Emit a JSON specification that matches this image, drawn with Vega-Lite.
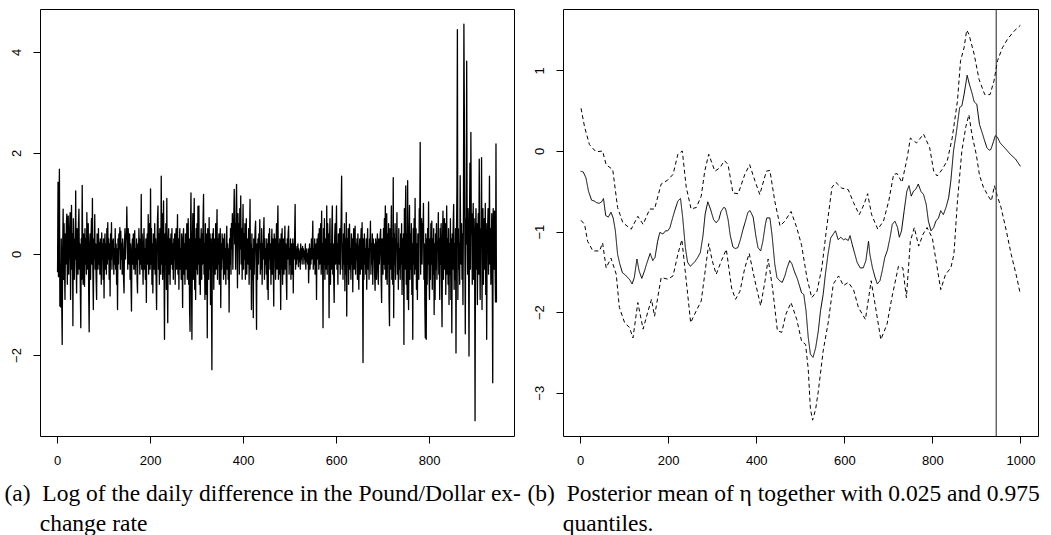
{
"$schema":"https://vega.github.io/schema/vega-lite/v6.json",
"background":"white",
"padding":{"left":0,"top":8,"right":0,"bottom":0},
"bounds":"flush",
"spacing":49,
"config":{
 "view":{"stroke":"black","strokeWidth":1},
 "axis":{"domain":false,"grid":false,"tickColor":"black","tickSize":7,"tickWidth":1,"labelFont":"Liberation Sans","labelFontSize":13,"labelColor":"black","labelFlush":false,"labelOverlap":false,"titleFont":"Times New Roman, Tinos, Liberation Serif, DejaVu Serif Condensed","titleFontSize":23.5,"titleFontWeight":"normal","titleColor":"black","titleLineHeight":30,"titleLimit":2000},
 "axisX":{"labelPadding":11,"labelBaseline":"top"},
 "axisY":{"labelAngle":270,"labelAlign":"center","labelBaseline":"bottom","labelPadding":10,"minExtent":39,"maxExtent":39}
},
"hconcat":[
{
 "width":474,"height":427,
 "data":{"values":[
{"t":1,"y":-0.35},{"t":2,"y":1.42},{"t":3,"y":-0.45},{"t":4,"y":0.9},{"t":5,"y":1.68},{"t":6,"y":-1.03},{"t":7,"y":-0.2},{"t":8,"y":-1.05},{"t":9,"y":0.3},{"t":10,"y":-1.0},
{"t":11,"y":-1.79},{"t":12,"y":0.1},{"t":13,"y":0.89},{"t":14,"y":-0.5},{"t":15,"y":0.6},{"t":16,"y":-0.3},{"t":17,"y":-0.9},{"t":18,"y":0.4},{"t":19,"y":-0.2},{"t":20,"y":0.6},
{"t":21,"y":0.79},{"t":22,"y":-0.6},{"t":23,"y":0.3},{"t":24,"y":0.75},{"t":25,"y":-0.4},{"t":26,"y":0.1},{"t":27,"y":0.5},{"t":28,"y":0.82},{"t":29,"y":-0.9},{"t":30,"y":0.2},
{"t":31,"y":0.96},{"t":32,"y":-0.3},{"t":33,"y":0.4},{"t":34,"y":-1.42},{"t":35,"y":0.7},{"t":36,"y":0.2},{"t":37,"y":-0.5},{"t":38,"y":0.3},{"t":39,"y":-0.1},{"t":40,"y":1.25},
{"t":41,"y":-0.2},{"t":42,"y":-0.77},{"t":43,"y":0.5},{"t":44,"y":0.1},{"t":45,"y":-0.4},{"t":46,"y":0.6},{"t":47,"y":0.89},{"t":48,"y":-0.3},{"t":49,"y":0.2},{"t":50,"y":-0.7},
{"t":51,"y":-1.46},{"t":52,"y":0.3},{"t":53,"y":-0.5},{"t":54,"y":1.36},{"t":55,"y":0.2},{"t":56,"y":-0.6},{"t":57,"y":0.4},{"t":58,"y":0.1},{"t":59,"y":-0.64},{"t":60,"y":0.5},
{"t":61,"y":-0.2},{"t":62,"y":0.3},{"t":63,"y":-0.4},{"t":64,"y":0.82},{"t":65,"y":0.1},{"t":66,"y":-0.3},{"t":67,"y":0.6},{"t":68,"y":-0.8},{"t":69,"y":-1.54},{"t":70,"y":0.2},
{"t":71,"y":0.4},{"t":72,"y":-0.5},{"t":73,"y":0.3},{"t":74,"y":0.7},{"t":75,"y":-0.2},{"t":76,"y":1.1},{"t":77,"y":-0.4},{"t":78,"y":-1.1},{"t":79,"y":0.3},{"t":80,"y":-0.1},
{"t":81,"y":0.78},{"t":82,"y":-0.3},{"t":83,"y":0.2},{"t":84,"y":-0.5},{"t":85,"y":-0.9},{"t":86,"y":0.4},{"t":87,"y":0.1},{"t":88,"y":-0.3},{"t":89,"y":0.5},{"t":90,"y":-0.2},
{"t":91,"y":0.22},{"t":92,"y":-0.4},{"t":93,"y":0.3},{"t":94,"y":0.1},{"t":95,"y":-0.6},{"t":96,"y":0.42},{"t":97,"y":-0.1},{"t":98,"y":0.2},{"t":99,"y":-0.5},{"t":100,"y":0.3},
{"t":101,"y":-0.87},{"t":102,"y":0.1},{"t":103,"y":0.4},{"t":104,"y":-0.3},{"t":105,"y":0.2},{"t":106,"y":-0.4},{"t":107,"y":0.5},{"t":108,"y":-0.2},{"t":109,"y":0.62},{"t":110,"y":-0.1},
{"t":111,"y":0.3},{"t":112,"y":-0.5},{"t":113,"y":0.2},{"t":114,"y":-0.83},{"t":115,"y":0.4},{"t":116,"y":-0.1},{"t":117,"y":0.62},{"t":118,"y":-0.3},{"t":119,"y":0.1},{"t":120,"y":0.25},
{"t":121,"y":0.3},{"t":122,"y":-0.4},{"t":123,"y":0.1},{"t":124,"y":-0.2},{"t":125,"y":0.5},{"t":126,"y":-0.3},{"t":127,"y":0.2},{"t":128,"y":-0.6},{"t":129,"y":0.1},{"t":130,"y":-1.1},
{"t":131,"y":0.3},{"t":132,"y":-0.2},{"t":133,"y":0.4},{"t":134,"y":0.1},{"t":135,"y":0.52},{"t":136,"y":-0.3},{"t":137,"y":0.45},{"t":138,"y":-0.1},{"t":139,"y":0.2},{"t":140,"y":-0.4},
{"t":141,"y":0.3},{"t":142,"y":0.1},{"t":143,"y":-0.5},{"t":144,"y":-0.77},{"t":145,"y":0.2},{"t":146,"y":0.5},{"t":147,"y":-0.1},{"t":148,"y":0.4},{"t":149,"y":0.3},{"t":150,"y":0.93},
{"t":151,"y":0.2},{"t":152,"y":-0.3},{"t":153,"y":0.5},{"t":154,"y":0.1},{"t":155,"y":-0.2},{"t":156,"y":0.4},{"t":157,"y":-0.5},{"t":158,"y":0.2},{"t":159,"y":-0.6},{"t":160,"y":-1.13},
{"t":161,"y":0.1},{"t":162,"y":0.3},{"t":163,"y":-0.2},{"t":164,"y":0.4},{"t":165,"y":-0.3},{"t":166,"y":0.2},{"t":167,"y":0.46},{"t":168,"y":-0.4},{"t":169,"y":0.1},{"t":170,"y":-0.2},
{"t":171,"y":0.3},{"t":172,"y":-0.5},{"t":173,"y":-0.77},{"t":174,"y":0.2},{"t":175,"y":-0.1},{"t":176,"y":0.5},{"t":177,"y":0.1},{"t":178,"y":-0.4},{"t":179,"y":0.3},{"t":180,"y":-0.2},
{"t":181,"y":1.18},{"t":182,"y":-0.3},{"t":183,"y":0.4},{"t":184,"y":-0.1},{"t":185,"y":-0.6},{"t":186,"y":0.2},{"t":187,"y":0.5},{"t":188,"y":-0.3},{"t":189,"y":0.1},{"t":190,"y":-0.5},
{"t":191,"y":0.3},{"t":192,"y":-0.96},{"t":193,"y":0.2},{"t":194,"y":0.4},{"t":195,"y":-0.2},{"t":196,"y":0.78},{"t":197,"y":-0.4},{"t":198,"y":0.1},{"t":199,"y":0.6},{"t":200,"y":-0.3},
{"t":201,"y":1.29},{"t":202,"y":-0.2},{"t":203,"y":0.5},{"t":204,"y":-0.6},{"t":205,"y":0.2},{"t":206,"y":-0.77},{"t":207,"y":0.4},{"t":208,"y":0.1},{"t":209,"y":-0.3},{"t":210,"y":0.6},
{"t":211,"y":-0.4},{"t":212,"y":0.3},{"t":213,"y":-0.5},{"t":214,"y":-1.1},{"t":215,"y":0.2},{"t":216,"y":0.7},{"t":217,"y":0.95},{"t":218,"y":-0.3},{"t":219,"y":0.4},{"t":220,"y":-0.6},
{"t":221,"y":0.5},{"t":222,"y":0.1},{"t":223,"y":-0.4},{"t":224,"y":1.54},{"t":225,"y":-0.2},{"t":226,"y":0.8},{"t":227,"y":-0.5},{"t":228,"y":0.3},{"t":229,"y":1.05},{"t":230,"y":-0.3},
{"t":231,"y":-1.69},{"t":232,"y":0.4},{"t":233,"y":-0.2},{"t":234,"y":0.6},{"t":235,"y":-0.7},{"t":236,"y":1.1},{"t":237,"y":-0.3},{"t":238,"y":-1.36},{"t":239,"y":0.2},{"t":240,"y":0.5},
{"t":241,"y":-0.4},{"t":242,"y":0.3},{"t":243,"y":-0.6},{"t":244,"y":0.1},{"t":245,"y":0.4},{"t":246,"y":-0.2},{"t":247,"y":0.5},{"t":248,"y":-0.3},{"t":249,"y":0.2},{"t":250,"y":-0.5},
{"t":251,"y":0.3},{"t":252,"y":-0.1},{"t":253,"y":0.4},{"t":254,"y":-0.6},{"t":255,"y":0.2},{"t":256,"y":0.5},{"t":257,"y":-0.3},{"t":258,"y":0.1},{"t":259,"y":0.78},{"t":260,"y":-0.4},
{"t":261,"y":0.3},{"t":262,"y":-0.7},{"t":263,"y":0.2},{"t":264,"y":0.5},{"t":265,"y":-0.3},{"t":266,"y":0.1},{"t":267,"y":-0.5},{"t":268,"y":0.4},{"t":269,"y":-0.2},{"t":270,"y":-1.06},
{"t":271,"y":0.3},{"t":272,"y":0.5},{"t":273,"y":-0.4},{"t":274,"y":0.2},{"t":275,"y":-0.6},{"t":276,"y":0.4},{"t":277,"y":0.1},{"t":278,"y":-0.3},{"t":279,"y":0.6},{"t":280,"y":-0.5},
{"t":281,"y":0.2},{"t":282,"y":0.7},{"t":283,"y":-0.6},{"t":284,"y":0.3},{"t":285,"y":-1.1},{"t":286,"y":-1.53},{"t":287,"y":0.5},{"t":288,"y":1.21},{"t":289,"y":-0.4},{"t":290,"y":-1.69},
{"t":291,"y":0.2},{"t":292,"y":0.8},{"t":293,"y":-0.5},{"t":294,"y":0.4},{"t":295,"y":1.1},{"t":296,"y":-0.7},{"t":297,"y":0.3},{"t":298,"y":-0.9},{"t":299,"y":0.5},{"t":300,"y":-0.3},
{"t":301,"y":0.6},{"t":302,"y":-0.4},{"t":303,"y":0.94},{"t":304,"y":-0.2},{"t":305,"y":0.95},{"t":306,"y":-0.6},{"t":307,"y":0.3},{"t":308,"y":-0.8},{"t":309,"y":0.2},{"t":310,"y":0.5},
{"t":311,"y":-0.5},{"t":312,"y":0.4},{"t":313,"y":-0.2},{"t":314,"y":0.7},{"t":315,"y":1.18},{"t":316,"y":-0.4},{"t":317,"y":0.2},{"t":318,"y":-0.9},{"t":319,"y":0.6},{"t":320,"y":-0.3},
{"t":321,"y":-0.8},{"t":322,"y":0.4},{"t":323,"y":-1.66},{"t":324,"y":0.5},{"t":325,"y":0.1},{"t":326,"y":-0.5},{"t":327,"y":0.72},{"t":328,"y":-0.3},{"t":329,"y":0.4},{"t":330,"y":-1.0},
{"t":331,"y":0.3},{"t":332,"y":-0.6},{"t":333,"y":-2.29},{"t":334,"y":0.4},{"t":335,"y":-0.2},{"t":336,"y":0.5},{"t":337,"y":-0.7},{"t":338,"y":0.1},{"t":339,"y":0.3},{"t":340,"y":-0.4},
{"t":341,"y":0.6},{"t":342,"y":-0.3},{"t":343,"y":0.2},{"t":344,"y":0.88},{"t":345,"y":-0.5},{"t":346,"y":0.3},{"t":347,"y":-0.2},{"t":348,"y":0.4},{"t":349,"y":-0.6},{"t":350,"y":0.1},
{"t":351,"y":0.5},{"t":352,"y":-1.06},{"t":353,"y":0.2},{"t":354,"y":-0.3},{"t":355,"y":0.4},{"t":356,"y":-0.1},{"t":357,"y":0.3},{"t":358,"y":-0.5},{"t":359,"y":0.2},{"t":360,"y":0.4},
{"t":361,"y":-0.4},{"t":362,"y":0.1},{"t":363,"y":-0.6},{"t":364,"y":0.3},{"t":365,"y":0.55},{"t":366,"y":-0.3},{"t":367,"y":0.2},{"t":368,"y":-0.5},{"t":369,"y":0.1},{"t":370,"y":-1.15},
{"t":371,"y":0.3},{"t":372,"y":-0.2},{"t":373,"y":0.5},{"t":374,"y":-0.4},{"t":375,"y":0.6},{"t":376,"y":0.1},{"t":377,"y":0.8},{"t":378,"y":-0.3},{"t":379,"y":0.4},{"t":380,"y":0.7},
{"t":381,"y":1.28},{"t":382,"y":0.2},{"t":383,"y":0.6},{"t":384,"y":-0.3},{"t":385,"y":0.9},{"t":386,"y":1.38},{"t":387,"y":0.3},{"t":388,"y":-0.67},{"t":389,"y":0.8},{"t":390,"y":0.2},
{"t":391,"y":0.6},{"t":392,"y":-0.4},{"t":393,"y":0.9},{"t":394,"y":0.1},{"t":395,"y":1.15},{"t":396,"y":-0.2},{"t":397,"y":0.5},{"t":398,"y":-0.5},{"t":399,"y":0.3},{"t":400,"y":0.98},
{"t":401,"y":-0.3},{"t":402,"y":0.4},{"t":403,"y":-0.1},{"t":404,"y":0.6},{"t":405,"y":-0.5},{"t":406,"y":0.2},{"t":407,"y":0.7},{"t":408,"y":-0.4},{"t":409,"y":0.3},{"t":410,"y":0.1},
{"t":411,"y":-0.2},{"t":412,"y":0.5},{"t":413,"y":-0.6},{"t":414,"y":0.3},{"t":415,"y":1.08},{"t":416,"y":-0.3},{"t":417,"y":0.2},{"t":418,"y":-1.1},{"t":419,"y":0.4},{"t":420,"y":-0.5},
{"t":421,"y":0.1},{"t":422,"y":-1.26},{"t":423,"y":0.3},{"t":424,"y":-0.4},{"t":425,"y":0.2},{"t":426,"y":0.5},{"t":427,"y":0.65},{"t":428,"y":-0.3},{"t":429,"y":-1.49},{"t":430,"y":0.2},
{"t":431,"y":-0.5},{"t":432,"y":0.3},{"t":433,"y":-0.2},{"t":434,"y":0.4},{"t":435,"y":0.1},{"t":436,"y":0.68},{"t":437,"y":-0.4},{"t":438,"y":0.2},{"t":439,"y":-0.3},{"t":440,"y":0.5},
{"t":441,"y":-0.6},{"t":442,"y":0.2},{"t":443,"y":-0.1},{"t":444,"y":0.4},{"t":445,"y":0.72},{"t":446,"y":-0.5},{"t":447,"y":0.3},{"t":448,"y":-0.2},{"t":449,"y":0.1},{"t":450,"y":-0.4},
{"t":451,"y":0.3},{"t":452,"y":-0.7},{"t":453,"y":0.2},{"t":454,"y":-0.9},{"t":455,"y":0.4},{"t":456,"y":-0.1},{"t":457,"y":0.5},{"t":458,"y":-0.3},{"t":459,"y":0.2},{"t":460,"y":-0.6},
{"t":461,"y":0.1},{"t":462,"y":0.49},{"t":463,"y":-0.4},{"t":464,"y":0.3},{"t":465,"y":-0.2},{"t":466,"y":-1.03},{"t":467,"y":0.4},{"t":468,"y":-0.1},{"t":469,"y":0.3},{"t":470,"y":-0.5},
{"t":471,"y":0.2},{"t":472,"y":0.6},{"t":473,"y":-0.3},{"t":474,"y":0.4},{"t":475,"y":0.95},{"t":476,"y":-0.5},{"t":477,"y":0.2},{"t":478,"y":-0.4},{"t":479,"y":0.3},{"t":480,"y":-0.2},
{"t":481,"y":-1.1},{"t":482,"y":0.4},{"t":483,"y":-0.3},{"t":484,"y":0.5},{"t":485,"y":-0.6},{"t":486,"y":0.2},{"t":487,"y":0.3},{"t":488,"y":-0.4},{"t":489,"y":0.1},{"t":490,"y":0.55},
{"t":491,"y":-0.3},{"t":492,"y":0.2},{"t":493,"y":-0.5},{"t":494,"y":-0.9},{"t":495,"y":0.3},{"t":496,"y":-0.1},{"t":497,"y":0.4},{"t":498,"y":0.55},{"t":499,"y":-0.4},{"t":500,"y":0.1},
{"t":501,"y":-0.2},{"t":502,"y":0.3},{"t":503,"y":-0.5},{"t":504,"y":0.2},{"t":505,"y":0.1},{"t":506,"y":-0.4},{"t":507,"y":0.3},{"t":508,"y":-0.77},{"t":509,"y":0.2},{"t":510,"y":-0.1},
{"t":511,"y":0.4},{"t":512,"y":0.98},{"t":513,"y":-0.3},{"t":514,"y":0.1},{"t":515,"y":-0.2},{"t":516,"y":0.15},{"t":517,"y":-0.1},{"t":518,"y":0.2},{"t":519,"y":-0.25},{"t":520,"y":0.1},
{"t":521,"y":-0.15},{"t":522,"y":0.05},{"t":523,"y":-0.3},{"t":524,"y":0.2},{"t":525,"y":-0.1},{"t":526,"y":0.1},{"t":527,"y":-0.2},{"t":528,"y":0.15},{"t":529,"y":-0.05},{"t":530,"y":0.1},
{"t":531,"y":-0.2},{"t":532,"y":0.05},{"t":533,"y":-0.1},{"t":534,"y":0.2},{"t":535,"y":-0.3},{"t":536,"y":0.1},{"t":537,"y":-0.15},{"t":538,"y":0.0},{"t":539,"y":-0.2},{"t":540,"y":0.1},
{"t":541,"y":-0.57},{"t":542,"y":-0.1},{"t":543,"y":0.2},{"t":544,"y":-0.3},{"t":545,"y":0.1},{"t":546,"y":-0.2},{"t":547,"y":0.3},{"t":548,"y":-0.1},{"t":549,"y":0.2},{"t":550,"y":0.65},
{"t":551,"y":-0.3},{"t":552,"y":0.1},{"t":553,"y":-0.2},{"t":554,"y":0.3},{"t":555,"y":-0.4},{"t":556,"y":0.0},{"t":557,"y":0.2},{"t":558,"y":-0.9},{"t":559,"y":0.3},{"t":560,"y":-0.1},
{"t":561,"y":0.2},{"t":562,"y":0.4},{"t":563,"y":-0.3},{"t":564,"y":0.5},{"t":565,"y":-0.2},{"t":566,"y":0.1},{"t":567,"y":0.6},{"t":568,"y":-0.4},{"t":569,"y":0.85},{"t":570,"y":-0.3},
{"t":571,"y":0.2},{"t":572,"y":-1.46},{"t":573,"y":0.5},{"t":574,"y":-0.2},{"t":575,"y":0.7},{"t":576,"y":-0.5},{"t":577,"y":0.3},{"t":578,"y":0.1},{"t":579,"y":-0.3},{"t":580,"y":0.95},
{"t":581,"y":-0.4},{"t":582,"y":0.6},{"t":583,"y":-0.2},{"t":584,"y":0.4},{"t":585,"y":-1.26},{"t":586,"y":0.3},{"t":587,"y":0.7},{"t":588,"y":-0.6},{"t":589,"y":0.2},{"t":590,"y":-0.3},
{"t":591,"y":0.5},{"t":592,"y":0.95},{"t":593,"y":-0.4},{"t":594,"y":0.2},{"t":595,"y":-0.5},{"t":596,"y":-0.96},{"t":597,"y":0.3},{"t":598,"y":0.6},{"t":599,"y":-0.2},{"t":600,"y":0.4},
{"t":601,"y":0.95},{"t":602,"y":-0.3},{"t":603,"y":0.2},{"t":604,"y":-0.6},{"t":605,"y":0.4},{"t":606,"y":0.1},{"t":607,"y":-0.2},{"t":608,"y":0.5},{"t":609,"y":-0.4},{"t":610,"y":0.3},
{"t":611,"y":0.7},{"t":612,"y":1.54},{"t":613,"y":-0.3},{"t":614,"y":0.2},{"t":615,"y":-0.5},{"t":616,"y":0.4},{"t":617,"y":-0.2},{"t":618,"y":0.6},{"t":619,"y":-0.73},{"t":620,"y":0.3},
{"t":621,"y":-0.4},{"t":622,"y":0.82},{"t":623,"y":-1.23},{"t":624,"y":0.3},{"t":625,"y":-0.2},{"t":626,"y":0.5},{"t":627,"y":-0.6},{"t":628,"y":0.2},{"t":629,"y":0.59},{"t":630,"y":-0.3},
{"t":631,"y":0.1},{"t":632,"y":-0.5},{"t":633,"y":0.4},{"t":634,"y":-0.2},{"t":635,"y":0.3},{"t":636,"y":-0.75},{"t":637,"y":0.2},{"t":638,"y":0.5},{"t":639,"y":-0.3},{"t":640,"y":0.1},
{"t":641,"y":0.55},{"t":642,"y":-0.4},{"t":643,"y":0.2},{"t":644,"y":-0.1},{"t":645,"y":0.3},{"t":646,"y":-0.5},{"t":647,"y":0.4},{"t":648,"y":-0.2},{"t":649,"y":-0.7},{"t":650,"y":0.1},
{"t":651,"y":0.3},{"t":652,"y":-0.4},{"t":653,"y":0.2},{"t":654,"y":0.5},{"t":655,"y":-0.3},{"t":656,"y":0.62},{"t":657,"y":-0.2},{"t":658,"y":-2.15},{"t":659,"y":0.3},{"t":660,"y":-0.5},
{"t":661,"y":0.4},{"t":662,"y":-0.2},{"t":663,"y":0.1},{"t":664,"y":-0.4},{"t":665,"y":0.3},{"t":666,"y":-0.7},{"t":667,"y":0.2},{"t":668,"y":0.5},{"t":669,"y":-0.3},{"t":670,"y":0.1},
{"t":671,"y":-0.5},{"t":672,"y":0.3},{"t":673,"y":0.1},{"t":674,"y":0.65},{"t":675,"y":-0.4},{"t":676,"y":0.2},{"t":677,"y":-0.2},{"t":678,"y":0.4},{"t":679,"y":-0.6},{"t":680,"y":0.3},
{"t":681,"y":-0.1},{"t":682,"y":0.2},{"t":683,"y":-0.4},{"t":684,"y":-0.72},{"t":685,"y":0.3},{"t":686,"y":0.1},{"t":687,"y":-0.5},{"t":688,"y":0.2},{"t":689,"y":0.4},{"t":690,"y":-0.3},
{"t":691,"y":-0.6},{"t":692,"y":0.3},{"t":693,"y":-0.2},{"t":694,"y":0.1},{"t":695,"y":0.4},{"t":696,"y":0.49},{"t":697,"y":-0.5},{"t":698,"y":-0.96},{"t":699,"y":0.3},{"t":700,"y":0.2},
{"t":701,"y":-0.4},{"t":702,"y":0.5},{"t":703,"y":-0.2},{"t":704,"y":0.7},{"t":705,"y":-0.3},{"t":706,"y":0.95},{"t":707,"y":-0.5},{"t":708,"y":0.3},{"t":709,"y":0.8},{"t":710,"y":-0.6},
{"t":711,"y":0.4},{"t":712,"y":-0.2},{"t":713,"y":0.6},{"t":714,"y":-0.9},{"t":715,"y":-1.42},{"t":716,"y":0.5},{"t":717,"y":-0.3},{"t":718,"y":0.2},{"t":719,"y":0.95},{"t":720,"y":-0.5},
{"t":721,"y":0.3},{"t":722,"y":-0.6},{"t":723,"y":1.51},{"t":724,"y":-1.26},{"t":725,"y":0.4},{"t":726,"y":-0.2},{"t":727,"y":0.6},{"t":728,"y":-0.5},{"t":729,"y":0.3},{"t":730,"y":0.1},
{"t":731,"y":0.82},{"t":732,"y":-0.4},{"t":733,"y":0.2},{"t":734,"y":-0.7},{"t":735,"y":0.5},{"t":736,"y":-0.3},{"t":737,"y":0.1},{"t":738,"y":-0.5},{"t":739,"y":0.4},{"t":740,"y":-0.2},
{"t":741,"y":0.6},{"t":742,"y":-0.8},{"t":743,"y":0.3},{"t":744,"y":-0.5},{"t":745,"y":0.4},{"t":746,"y":-1.79},{"t":747,"y":0.9},{"t":748,"y":-0.3},{"t":749,"y":0.7},{"t":750,"y":1.35},
{"t":751,"y":-0.6},{"t":752,"y":0.4},{"t":753,"y":-0.9},{"t":754,"y":1.45},{"t":755,"y":-0.4},{"t":756,"y":-1.1},{"t":757,"y":0.3},{"t":758,"y":0.96},{"t":759,"y":-0.5},{"t":760,"y":0.4},
{"t":761,"y":-0.3},{"t":762,"y":0.6},{"t":763,"y":-0.8},{"t":764,"y":0.2},{"t":765,"y":-1.69},{"t":766,"y":0.5},{"t":767,"y":-0.2},{"t":768,"y":0.7},{"t":769,"y":-0.4},{"t":770,"y":1.1},
{"t":771,"y":-0.3},{"t":772,"y":0.5},{"t":773,"y":-0.7},{"t":774,"y":0.2},{"t":775,"y":-0.9},{"t":776,"y":0.4},{"t":777,"y":0.1},{"t":778,"y":-0.5},{"t":779,"y":0.9},{"t":780,"y":0.6},
{"t":781,"y":2.21},{"t":782,"y":-0.4},{"t":783,"y":0.5},{"t":784,"y":0.7},{"t":785,"y":-0.2},{"t":786,"y":0.6},{"t":787,"y":0.3},{"t":788,"y":1.0},{"t":789,"y":-0.5},{"t":790,"y":0.2},
{"t":791,"y":-1.0},{"t":792,"y":-1.66},{"t":793,"y":0.4},{"t":794,"y":-1.69},{"t":795,"y":0.3},{"t":796,"y":-0.6},{"t":797,"y":0.5},{"t":798,"y":-0.2},{"t":799,"y":1.03},{"t":800,"y":-0.4},
{"t":801,"y":-0.9},{"t":802,"y":0.3},{"t":803,"y":-0.5},{"t":804,"y":0.6},{"t":805,"y":-0.2},{"t":806,"y":0.65},{"t":807,"y":-0.7},{"t":808,"y":0.3},{"t":809,"y":-0.4},{"t":810,"y":0.5},
{"t":811,"y":-1.2},{"t":812,"y":0.2},{"t":813,"y":-0.9},{"t":814,"y":0.4},{"t":815,"y":-0.3},{"t":816,"y":0.6},{"t":817,"y":-0.5},{"t":818,"y":0.2},{"t":819,"y":0.1},{"t":820,"y":0.82},
{"t":821,"y":-0.4},{"t":822,"y":0.3},{"t":823,"y":-0.9},{"t":824,"y":0.5},{"t":825,"y":-0.2},{"t":826,"y":0.6},{"t":827,"y":-0.6},{"t":828,"y":-1.44},{"t":829,"y":0.3},{"t":830,"y":0.85},
{"t":831,"y":-0.5},{"t":832,"y":0.4},{"t":833,"y":0.7},{"t":834,"y":-0.3},{"t":835,"y":0.6},{"t":836,"y":-0.8},{"t":837,"y":0.2},{"t":838,"y":0.95},{"t":839,"y":-0.4},{"t":840,"y":0.3},
{"t":841,"y":-0.6},{"t":842,"y":0.5},{"t":843,"y":-1.0},{"t":844,"y":0.2},{"t":845,"y":-0.4},{"t":846,"y":0.7},{"t":847,"y":-0.9},{"t":848,"y":0.3},{"t":849,"y":-1.56},{"t":850,"y":0.4},
{"t":851,"y":-0.3},{"t":852,"y":0.6},{"t":853,"y":0.98},{"t":854,"y":-0.7},{"t":855,"y":0.2},{"t":856,"y":-0.5},{"t":857,"y":0.5},{"t":858,"y":-1.96},{"t":859,"y":0.3},{"t":860,"y":1.29},
{"t":861,"y":4.44},{"t":862,"y":-0.9},{"t":863,"y":0.5},{"t":864,"y":-0.3},{"t":865,"y":0.2},{"t":866,"y":-0.6},{"t":867,"y":1.55},{"t":868,"y":0.3},{"t":869,"y":-0.2},{"t":870,"y":0.6},
{"t":871,"y":-0.5},{"t":872,"y":0.4},{"t":873,"y":-1.0},{"t":874,"y":0.8},{"t":875,"y":4.55},{"t":876,"y":2.8},{"t":877,"y":0.4},{"t":878,"y":-1.58},{"t":879,"y":0.7},{"t":880,"y":0.2},
{"t":881,"y":3.82},{"t":882,"y":0.5},{"t":883,"y":-0.4},{"t":884,"y":0.9},{"t":885,"y":-0.2},{"t":886,"y":-2.02},{"t":887,"y":0.6},{"t":888,"y":1.8},{"t":889,"y":-0.3},{"t":890,"y":2.41},
{"t":891,"y":0.4},{"t":892,"y":0.8},{"t":893,"y":-0.6},{"t":894,"y":0.3},{"t":895,"y":1.0},{"t":896,"y":-0.5},{"t":897,"y":0.7},{"t":898,"y":0.2},{"t":899,"y":-3.3},{"t":900,"y":0.4},
{"t":901,"y":0.9},{"t":902,"y":-0.3},{"t":903,"y":0.6},{"t":904,"y":-1.0},{"t":905,"y":0.3},{"t":906,"y":0.8},{"t":907,"y":-0.4},{"t":908,"y":1.88},{"t":909,"y":0.1},{"t":910,"y":-0.9},
{"t":911,"y":0.5},{"t":912,"y":0.2},{"t":913,"y":1.91},{"t":914,"y":-1.1},{"t":915,"y":0.4},{"t":916,"y":0.9},{"t":917,"y":-0.6},{"t":918,"y":0.5},{"t":919,"y":0.7},{"t":920,"y":-0.3},
{"t":921,"y":1.0},{"t":922,"y":-0.8},{"t":923,"y":0.6},{"t":924,"y":-1.69},{"t":925,"y":0.3},{"t":926,"y":0.5},{"t":927,"y":0.9},{"t":928,"y":-0.4},{"t":929,"y":0.2},{"t":930,"y":1.54},
{"t":931,"y":-0.2},{"t":932,"y":0.5},{"t":933,"y":-0.6},{"t":934,"y":0.3},{"t":935,"y":0.8},{"t":936,"y":-0.5},{"t":937,"y":-2.55},{"t":938,"y":0.9},{"t":939,"y":0.4},{"t":940,"y":-0.3},
{"t":941,"y":0.85},{"t":942,"y":-0.2},{"t":943,"y":-0.95},{"t":944,"y":2.18},{"t":945,"y":-0.95}
 ]},
 "mark":{"type":"line","color":"black","strokeWidth":1.3,"strokeJoin":"round","strokeCap":"round"},
 "encoding":{
  "x":{"field":"t","type":"quantitative","scale":{"domain":[-36.76,982.76],"nice":false,"zero":false},
   "axis":{"values":[0,200,400,600,800],"format":"d","title":["(a)\u00a0\u00a0Log of the daily difference in the Pound/Dollar ex-","\u200b\u00a0\u00a0\u00a0\u00a0\u00a0\u00a0change rate"],"titleX":-36,"titleY":64,"titleAngle":0,"titleAlign":"left","titleBaseline":"alphabetic","titleAnchor":"start"}},
  "y":{"field":"y","type":"quantitative","scale":{"domain":[-3.604,4.851],"nice":false,"zero":false},
   "axis":{"values":[-2,0,2,4],"format":"d","title":null}}
 }
},
{
 "width":475,"height":427,
 "layer":[
 {
  "data":{"values":[
{"t":1,"v":-0.25,"s":"m"},{"t":7,"v":-0.26,"s":"m"},{"t":13,"v":-0.33,"s":"m"},{"t":19,"v":-0.5,"s":"m"},{"t":26,"v":-0.61,"s":"m"},{"t":32,"v":-0.62,"s":"m"},{"t":37,"v":-0.64,"s":"m"},{"t":43,"v":-0.65,"s":"m"},{"t":49,"v":-0.63,"s":"m"},{"t":53,"v":-0.59,"s":"m"},
{"t":58,"v":-0.8,"s":"m"},{"t":64,"v":-0.82,"s":"m"},{"t":70,"v":-0.76,"s":"m"},{"t":75,"v":-0.83,"s":"m"},{"t":80,"v":-0.99,"s":"m"},{"t":85,"v":-1.28,"s":"m"},{"t":90,"v":-1.4,"s":"m"},{"t":96,"v":-1.51,"s":"m"},{"t":103,"v":-1.54,"s":"m"},{"t":108,"v":-1.57,"s":"m"},
{"t":113,"v":-1.6,"s":"m"},{"t":118,"v":-1.65,"s":"m"},{"t":123,"v":-1.57,"s":"m"},{"t":129,"v":-1.34,"s":"m"},{"t":134,"v":-1.49,"s":"m"},{"t":140,"v":-1.58,"s":"m"},{"t":146,"v":-1.49,"s":"m"},{"t":151,"v":-1.4,"s":"m"},{"t":159,"v":-1.27,"s":"m"},{"t":165,"v":-1.36,"s":"m"},
{"t":170,"v":-1.32,"s":"m"},{"t":176,"v":-1.12,"s":"m"},{"t":181,"v":-1.01,"s":"m"},{"t":188,"v":-1.03,"s":"m"},{"t":194,"v":-0.99,"s":"m"},{"t":199,"v":-0.99,"s":"m"},{"t":204,"v":-0.95,"s":"m"},{"t":210,"v":-0.83,"s":"m"},{"t":216,"v":-0.72,"s":"m"},{"t":222,"v":-0.62,"s":"m"},
{"t":228,"v":-0.59,"s":"m"},{"t":233,"v":-0.83,"s":"m"},{"t":239,"v":-1.2,"s":"m"},{"t":244,"v":-1.38,"s":"m"},{"t":250,"v":-1.43,"s":"m"},{"t":256,"v":-1.4,"s":"m"},{"t":261,"v":-1.37,"s":"m"},{"t":267,"v":-1.32,"s":"m"},{"t":273,"v":-1.26,"s":"m"},{"t":279,"v":-1.05,"s":"m"},
{"t":284,"v":-0.78,"s":"m"},{"t":290,"v":-0.63,"s":"m"},{"t":296,"v":-0.72,"s":"m"},{"t":303,"v":-0.85,"s":"m"},{"t":309,"v":-0.89,"s":"m"},{"t":315,"v":-0.85,"s":"m"},{"t":320,"v":-0.75,"s":"m"},{"t":326,"v":-0.7,"s":"m"},{"t":330,"v":-0.71,"s":"m"},{"t":336,"v":-0.85,"s":"m"},
{"t":341,"v":-1.05,"s":"m"},{"t":347,"v":-1.19,"s":"m"},{"t":352,"v":-1.21,"s":"m"},{"t":358,"v":-1.2,"s":"m"},{"t":364,"v":-1.1,"s":"m"},{"t":370,"v":-0.97,"s":"m"},{"t":375,"v":-0.88,"s":"m"},{"t":381,"v":-0.76,"s":"m"},{"t":386,"v":-0.74,"s":"m"},{"t":393,"v":-0.82,"s":"m"},
{"t":399,"v":-1.05,"s":"m"},{"t":404,"v":-1.2,"s":"m"},{"t":410,"v":-1.24,"s":"m"},{"t":415,"v":-1.12,"s":"m"},{"t":421,"v":-0.9,"s":"m"},{"t":424,"v":-0.83,"s":"m"},{"t":431,"v":-0.83,"s":"m"},{"t":436,"v":-1.05,"s":"m"},{"t":442,"v":-1.4,"s":"m"},{"t":447,"v":-1.57,"s":"m"},
{"t":453,"v":-1.61,"s":"m"},{"t":459,"v":-1.63,"s":"m"},{"t":465,"v":-1.55,"s":"m"},{"t":470,"v":-1.45,"s":"m"},{"t":476,"v":-1.36,"s":"m"},{"t":481,"v":-1.4,"s":"m"},{"t":487,"v":-1.5,"s":"m"},{"t":493,"v":-1.58,"s":"m"},{"t":497,"v":-1.65,"s":"m"},{"t":503,"v":-1.76,"s":"m"},
{"t":508,"v":-1.78,"s":"m"},{"t":513,"v":-1.98,"s":"m"},{"t":518,"v":-2.31,"s":"m"},{"t":523,"v":-2.52,"s":"m"},{"t":529,"v":-2.56,"s":"m"},{"t":535,"v":-2.44,"s":"m"},{"t":541,"v":-2.23,"s":"m"},{"t":546,"v":-1.98,"s":"m"},{"t":552,"v":-1.78,"s":"m"},{"t":557,"v":-1.53,"s":"m"},
{"t":563,"v":-1.28,"s":"m"},{"t":569,"v":-1.08,"s":"m"},{"t":575,"v":-1.03,"s":"m"},{"t":580,"v":-0.99,"s":"m"},{"t":586,"v":-1.1,"s":"m"},{"t":592,"v":-1.07,"s":"m"},{"t":598,"v":-1.1,"s":"m"},{"t":603,"v":-1.09,"s":"m"},{"t":609,"v":-1.11,"s":"m"},{"t":613,"v":-1.05,"s":"m"},
{"t":618,"v":-1.16,"s":"m"},{"t":624,"v":-1.28,"s":"m"},{"t":629,"v":-1.38,"s":"m"},{"t":636,"v":-1.45,"s":"m"},{"t":643,"v":-1.45,"s":"m"},{"t":649,"v":-1.36,"s":"m"},{"t":655,"v":-1.12,"s":"m"},{"t":658,"v":-1.28,"s":"m"},{"t":664,"v":-1.45,"s":"m"},{"t":670,"v":-1.57,"s":"m"},
{"t":675,"v":-1.65,"s":"m"},{"t":681,"v":-1.61,"s":"m"},{"t":686,"v":-1.49,"s":"m"},{"t":692,"v":-1.32,"s":"m"},{"t":698,"v":-1.23,"s":"m"},{"t":704,"v":-1.07,"s":"m"},{"t":709,"v":-0.91,"s":"m"},{"t":715,"v":-0.87,"s":"m"},{"t":721,"v":-0.95,"s":"m"},{"t":725,"v":-1.07,"s":"m"},
{"t":730,"v":-0.99,"s":"m"},{"t":736,"v":-0.74,"s":"m"},{"t":742,"v":-0.5,"s":"m"},{"t":747,"v":-0.43,"s":"m"},{"t":752,"v":-0.56,"s":"m"},{"t":757,"v":-0.5,"s":"m"},{"t":763,"v":-0.47,"s":"m"},{"t":768,"v":-0.41,"s":"m"},{"t":774,"v":-0.5,"s":"m"},{"t":780,"v":-0.54,"s":"m"},
{"t":786,"v":-0.66,"s":"m"},{"t":791,"v":-0.87,"s":"m"},{"t":797,"v":-0.99,"s":"m"},{"t":803,"v":-0.95,"s":"m"},{"t":808,"v":-0.87,"s":"m"},{"t":814,"v":-0.83,"s":"m"},{"t":819,"v":-0.74,"s":"m"},{"t":825,"v":-0.79,"s":"m"},{"t":831,"v":-0.7,"s":"m"},{"t":837,"v":-0.58,"s":"m"},
{"t":842,"v":-0.37,"s":"m"},{"t":848,"v":0.0,"s":"m"},{"t":854,"v":0.21,"s":"m"},{"t":862,"v":0.54,"s":"m"},{"t":867,"v":0.56,"s":"m"},{"t":872,"v":0.7,"s":"m"},{"t":879,"v":0.94,"s":"m"},{"t":884,"v":0.83,"s":"m"},{"t":890,"v":0.72,"s":"m"},{"t":895,"v":0.61,"s":"m"},
{"t":901,"v":0.58,"s":"m"},{"t":907,"v":0.33,"s":"m"},{"t":913,"v":0.23,"s":"m"},{"t":918,"v":0.14,"s":"m"},{"t":924,"v":0.04,"s":"m"},{"t":929,"v":0.01,"s":"m"},{"t":933,"v":0.02,"s":"m"},{"t":939,"v":0.12,"s":"m"},{"t":943,"v":0.19,"s":"m"},{"t":948,"v":0.17,"s":"m"},
{"t":954,"v":0.1,"s":"m"},{"t":966,"v":0.03,"s":"m"},{"t":977,"v":-0.04,"s":"m"},{"t":989,"v":-0.1,"s":"m"},{"t":1000,"v":-0.19,"s":"m"},
{"t":2,"v":0.53,"s":"hi"},{"t":10,"v":0.3,"s":"hi"},{"t":21,"v":0.08,"s":"hi"},{"t":36,"v":-0.01,"s":"hi"},{"t":51,"v":0.0,"s":"hi"},{"t":59,"v":-0.17,"s":"hi"},{"t":74,"v":-0.23,"s":"hi"},{"t":85,"v":-0.7,"s":"hi"},{"t":97,"v":-0.89,"s":"hi"},{"t":116,"v":-0.97,"s":"hi"},
{"t":131,"v":-0.81,"s":"hi"},{"t":143,"v":-0.91,"s":"hi"},{"t":158,"v":-0.72,"s":"hi"},{"t":169,"v":-0.72,"s":"hi"},{"t":184,"v":-0.41,"s":"hi"},{"t":199,"v":-0.36,"s":"hi"},{"t":211,"v":-0.29,"s":"hi"},{"t":222,"v":-0.04,"s":"hi"},{"t":232,"v":0.0,"s":"hi"},{"t":241,"v":-0.45,"s":"hi"},
{"t":252,"v":-0.72,"s":"hi"},{"t":264,"v":-0.7,"s":"hi"},{"t":275,"v":-0.56,"s":"hi"},{"t":283,"v":-0.25,"s":"hi"},{"t":292,"v":-0.04,"s":"hi"},{"t":306,"v":-0.25,"s":"hi"},{"t":317,"v":-0.21,"s":"hi"},{"t":328,"v":-0.12,"s":"hi"},{"t":336,"v":-0.17,"s":"hi"},{"t":347,"v":-0.52,"s":"hi"},
{"t":359,"v":-0.53,"s":"hi"},{"t":374,"v":-0.29,"s":"hi"},{"t":385,"v":-0.17,"s":"hi"},{"t":397,"v":-0.37,"s":"hi"},{"t":408,"v":-0.54,"s":"hi"},{"t":423,"v":-0.25,"s":"hi"},{"t":431,"v":-0.24,"s":"hi"},{"t":442,"v":-0.62,"s":"hi"},{"t":454,"v":-0.93,"s":"hi"},{"t":465,"v":-0.87,"s":"hi"},
{"t":479,"v":-0.75,"s":"hi"},{"t":492,"v":-0.95,"s":"hi"},{"t":503,"v":-1.17,"s":"hi"},{"t":515,"v":-1.57,"s":"hi"},{"t":526,"v":-1.82,"s":"hi"},{"t":538,"v":-1.74,"s":"hi"},{"t":549,"v":-1.45,"s":"hi"},{"t":560,"v":-0.95,"s":"hi"},{"t":572,"v":-0.45,"s":"hi"},{"t":581,"v":-0.39,"s":"hi"},
{"t":594,"v":-0.46,"s":"hi"},{"t":609,"v":-0.48,"s":"hi"},{"t":621,"v":-0.64,"s":"hi"},{"t":634,"v":-0.79,"s":"hi"},{"t":645,"v":-0.66,"s":"hi"},{"t":653,"v":-0.53,"s":"hi"},{"t":662,"v":-0.79,"s":"hi"},{"t":676,"v":-0.97,"s":"hi"},{"t":689,"v":-0.87,"s":"hi"},{"t":701,"v":-0.62,"s":"hi"},
{"t":712,"v":-0.29,"s":"hi"},{"t":720,"v":-0.28,"s":"hi"},{"t":731,"v":-0.39,"s":"hi"},{"t":743,"v":-0.08,"s":"hi"},{"t":750,"v":0.16,"s":"hi"},{"t":764,"v":0.1,"s":"hi"},{"t":780,"v":0.21,"s":"hi"},{"t":794,"v":0.04,"s":"hi"},{"t":803,"v":-0.25,"s":"hi"},{"t":811,"v":-0.31,"s":"hi"},
{"t":822,"v":-0.23,"s":"hi"},{"t":834,"v":-0.12,"s":"hi"},{"t":845,"v":0.16,"s":"hi"},{"t":857,"v":0.62,"s":"hi"},{"t":864,"v":1.12,"s":"hi"},{"t":872,"v":1.28,"s":"hi"},{"t":878,"v":1.5,"s":"hi"},{"t":883,"v":1.45,"s":"hi"},{"t":895,"v":1.2,"s":"hi"},{"t":906,"v":0.89,"s":"hi"},
{"t":919,"v":0.7,"s":"hi"},{"t":931,"v":0.7,"s":"hi"},{"t":940,"v":0.87,"s":"hi"},{"t":948,"v":1.12,"s":"hi"},{"t":959,"v":1.28,"s":"hi"},{"t":971,"v":1.39,"s":"hi"},{"t":986,"v":1.49,"s":"hi"},{"t":1000,"v":1.56,"s":"hi"},
{"t":2,"v":-0.86,"s":"lo"},{"t":10,"v":-0.91,"s":"lo"},{"t":17,"v":-1.12,"s":"lo"},{"t":29,"v":-1.24,"s":"lo"},{"t":44,"v":-1.24,"s":"lo"},{"t":51,"v":-1.14,"s":"lo"},{"t":59,"v":-1.45,"s":"lo"},{"t":70,"v":-1.33,"s":"lo"},{"t":82,"v":-1.53,"s":"lo"},{"t":89,"v":-1.94,"s":"lo"},
{"t":101,"v":-2.13,"s":"lo"},{"t":112,"v":-2.19,"s":"lo"},{"t":120,"v":-2.32,"s":"lo"},{"t":131,"v":-1.88,"s":"lo"},{"t":143,"v":-2.21,"s":"lo"},{"t":154,"v":-1.99,"s":"lo"},{"t":162,"v":-1.84,"s":"lo"},{"t":169,"v":-2.05,"s":"lo"},{"t":184,"v":-1.57,"s":"lo"},{"t":199,"v":-1.59,"s":"lo"},
{"t":211,"v":-1.55,"s":"lo"},{"t":222,"v":-1.28,"s":"lo"},{"t":231,"v":-1.1,"s":"lo"},{"t":241,"v":-1.61,"s":"lo"},{"t":251,"v":-2.13,"s":"lo"},{"t":264,"v":-1.98,"s":"lo"},{"t":275,"v":-1.86,"s":"lo"},{"t":283,"v":-1.53,"s":"lo"},{"t":292,"v":-1.15,"s":"lo"},{"t":300,"v":-1.36,"s":"lo"},
{"t":309,"v":-1.53,"s":"lo"},{"t":321,"v":-1.36,"s":"lo"},{"t":332,"v":-1.22,"s":"lo"},{"t":344,"v":-1.7,"s":"lo"},{"t":353,"v":-1.84,"s":"lo"},{"t":363,"v":-1.74,"s":"lo"},{"t":374,"v":-1.45,"s":"lo"},{"t":384,"v":-1.27,"s":"lo"},{"t":397,"v":-1.61,"s":"lo"},{"t":410,"v":-1.92,"s":"lo"},
{"t":420,"v":-1.61,"s":"lo"},{"t":427,"v":-1.34,"s":"lo"},{"t":437,"v":-1.7,"s":"lo"},{"t":448,"v":-2.23,"s":"lo"},{"t":458,"v":-2.25,"s":"lo"},{"t":467,"v":-2.03,"s":"lo"},{"t":479,"v":-1.88,"s":"lo"},{"t":492,"v":-2.09,"s":"lo"},{"t":503,"v":-2.36,"s":"lo"},{"t":512,"v":-2.4,"s":"lo"},
{"t":518,"v":-2.7,"s":"lo"},{"t":523,"v":-3.2,"s":"lo"},{"t":528,"v":-3.34,"s":"lo"},{"t":535,"v":-3.2,"s":"lo"},{"t":541,"v":-2.98,"s":"lo"},{"t":552,"v":-2.48,"s":"lo"},{"t":564,"v":-2.11,"s":"lo"},{"t":575,"v":-1.65,"s":"lo"},{"t":587,"v":-1.55,"s":"lo"},{"t":598,"v":-1.67,"s":"lo"},
{"t":609,"v":-1.63,"s":"lo"},{"t":621,"v":-1.72,"s":"lo"},{"t":632,"v":-1.94,"s":"lo"},{"t":648,"v":-2.09,"s":"lo"},{"t":661,"v":-1.61,"s":"lo"},{"t":671,"v":-1.94,"s":"lo"},{"t":683,"v":-2.34,"s":"lo"},{"t":697,"v":-2.15,"s":"lo"},{"t":708,"v":-1.82,"s":"lo"},{"t":723,"v":-1.43,"s":"lo"},
{"t":733,"v":-1.45,"s":"lo"},{"t":741,"v":-1.82,"s":"lo"},{"t":750,"v":-1.12,"s":"lo"},{"t":759,"v":-0.95,"s":"lo"},{"t":769,"v":-1.18,"s":"lo"},{"t":779,"v":-1.03,"s":"lo"},{"t":788,"v":-0.95,"s":"lo"},{"t":800,"v":-1.08,"s":"lo"},{"t":811,"v":-1.45,"s":"lo"},{"t":819,"v":-1.72,"s":"lo"},
{"t":830,"v":-1.53,"s":"lo"},{"t":842,"v":-1.45,"s":"lo"},{"t":849,"v":-1.28,"s":"lo"},{"t":857,"v":-0.62,"s":"lo"},{"t":867,"v":0.0,"s":"lo"},{"t":876,"v":0.3,"s":"lo"},{"t":883,"v":0.45,"s":"lo"},{"t":890,"v":0.2,"s":"lo"},{"t":900,"v":-0.05,"s":"lo"},{"t":907,"v":-0.3,"s":"lo"},
{"t":916,"v":-0.45,"s":"lo"},{"t":926,"v":-0.55,"s":"lo"},{"t":934,"v":-0.62,"s":"lo"},{"t":941,"v":-0.43,"s":"lo"},{"t":947,"v":-0.55,"s":"lo"},{"t":956,"v":-0.7,"s":"lo"},{"t":968,"v":-0.99,"s":"lo"},{"t":979,"v":-1.28,"s":"lo"},{"t":991,"v":-1.55,"s":"lo"},{"t":1000,"v":-1.78,"s":"lo"}
  ]},
  "mark":{"type":"line","color":"black","strokeWidth":1,"strokeJoin":"round"},
  "encoding":{
   "x":{"field":"t","type":"quantitative","scale":{"domain":[-38.96,1039.96],"nice":false,"zero":false},
    "axis":{"values":[0,200,400,600,800,1000],"format":"d","title":["(b)\u00a0\u00a0Posterior mean of η together with 0.025 and 0.975","\u200b\u00a0\u00a0\u00a0\u00a0\u00a0\u00a0quantiles."],"titleX":-36,"titleY":64,"titleAngle":0,"titleAlign":"left","titleBaseline":"alphabetic","titleAnchor":"start"}},
   "y":{"field":"v","type":"quantitative","scale":{"domain":[-3.536,1.762],"nice":false,"zero":false},
    "axis":{"values":[-3,-2,-1,0,1],"format":"d","title":null}},
   "detail":{"field":"s","type":"nominal"},
   "strokeDash":{"field":"s","type":"nominal","scale":{"domain":["m","lo","hi"],"range":[[1,0],[4,3],[4,3]]},"legend":null}
  }
 },
 {
  "data":{"values":[{"t":945}]},
  "mark":{"type":"rule","color":"#222222","strokeWidth":1},
  "encoding":{"x":{"field":"t","type":"quantitative"}}
 }
 ]
}
]
}
